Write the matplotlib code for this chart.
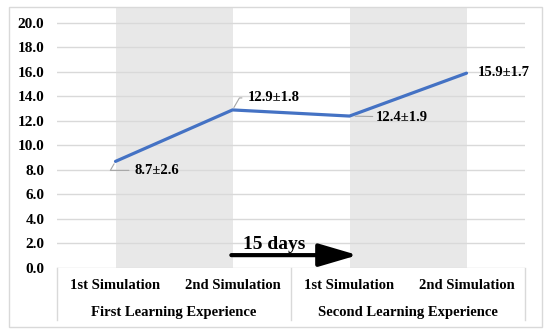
"""Learning-experience scores across two simulation sessions."""
import matplotlib
matplotlib.use("Agg")
import matplotlib.pyplot as plt
from matplotlib.patches import Rectangle

# data
categories = ["1st Simulation", "2nd Simulation", "1st Simulation", "2nd Simulation"]
groups = ["First Learning Experience", "Second Learning Experience"]
means = [8.7, 12.9, 12.4, 15.9]
sds = [2.6, 1.8, 1.9, 1.7]
yticks = [0, 2, 4, 6, 8, 10, 12, 14, 16, 18, 20]

plt.rcParams["font.family"] = ["Liberation Serif", "DejaVu Serif"]
plt.rcParams["font.weight"] = "bold"
FS = 10.5

W, H = 550, 334
fig = plt.figure(figsize=(5.5, 3.34), dpi=100)
fig.patches.append(Rectangle((9 / W, 1 - 327 / H), 533 / W, 320 / H,
                             transform=fig.transFigure, fill=False,
                             edgecolor="#d9d9d9", linewidth=1.0))

ax = fig.add_axes([57 / W, 1 - 268 / H, 468 / W, 261 / H])
x = list(range(len(means)))
ax.set_xlim(-0.5, 3.5)
ax.set_ylim(0, 21.3)

# shaded sessions
ax.axvspan(x[0], x[1], color="#e8e8e8", zorder=0, lw=0)
ax.axvspan(x[2], x[3], color="#e8e8e8", zorder=0, lw=0)
for t in yticks:
    ax.axhline(t, color="#d9d9d9", lw=1.0, zorder=1)

ax.plot(x, means, color="#4472C4", lw=2.3, zorder=3, solid_capstyle="round")

for s in ax.spines.values():
    s.set_visible(False)
ax.set_yticks(yticks)
ax.set_yticklabels([f"{t:.1f}" for t in yticks])
ax.tick_params(axis="y", length=0, pad=9, labelsize=FS + 0.5)
ax.set_xticks([])

# value labels with leader lines
labels = [f"{m}±{s}" for m, s in zip(means, sds)]
leader = dict(arrowstyle="-", color="#a6a6a6", lw=0.8,
              connectionstyle="angle,angleA=0,angleB=60,rad=0")
offsets = [(19, -9), (15, 12), (26, -1), (11, 1)]
for i, (lab, off) in enumerate(zip(labels, offsets)):
    kw = dict(arrowprops=leader) if i < 3 else {}
    if i == 2:
        kw = dict(arrowprops=dict(arrowstyle="-", color="#a6a6a6", lw=0.8, shrinkA=0, shrinkB=4))
    ax.annotate(lab, xy=(x[i], means[i]), xytext=off, textcoords="offset pixels",
                ha="left", va="center", fontsize=FS, fontweight="bold", zorder=4, **kw)

# 15 days arrow
ax.annotate("", xy=(2.07, 1.05), xytext=(0.99, 1.05),
            arrowprops=dict(arrowstyle="-|>,head_length=1.7,head_width=0.5",
                            lw=3, color="black", mutation_scale=14,
                            shrinkA=0, shrinkB=0), zorder=5)
ax.text(1.36, 1.55, "15 days", ha="center", va="baseline", fontsize=14, fontweight="bold")

# category axis beneath
tr = ax.get_xaxis_transform()
for i, c in enumerate(categories):
    ax.text(x[i], -0.066, c, transform=tr, ha="center", va="center", fontsize=FS,
            fontweight="bold")
for g, gx in zip(groups, [0.5, 2.5]):
    ax.text(gx, -0.169, g, transform=tr, ha="center", va="center", fontsize=FS,
            fontweight="bold")
for sx in [-0.5, 1.5, 3.5]:
    ax.plot([sx, sx], [0, -0.2], transform=tr, color="#d9d9d9", lw=1.0, clip_on=False)

fig.savefig("out.png", dpi=100)
